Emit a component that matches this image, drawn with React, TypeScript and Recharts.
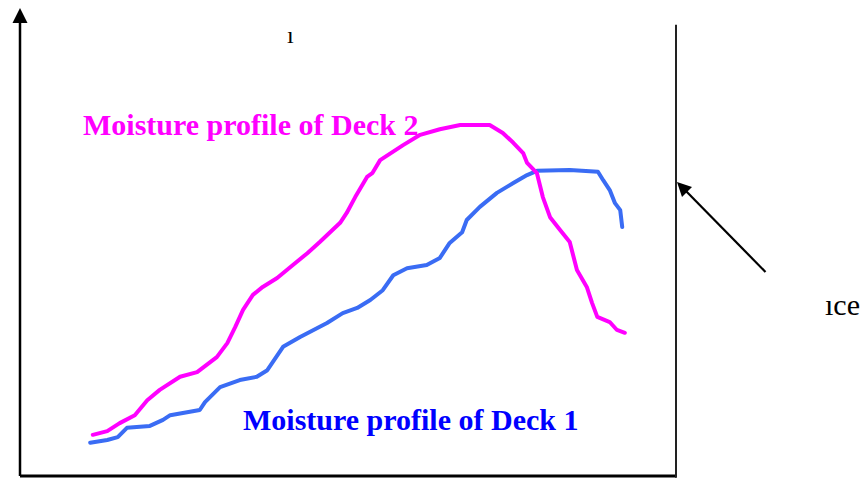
import React from "react";
import { LineChart, Line, XAxis, YAxis, ReferenceLine } from "recharts";

// Position along the deck (0-100) and relative moisture (0-100)
const deck2X = [11.1, 13.3, 15.2, 17.5, 19.4, 21.3, 24.4, 27.0, 30.0, 31.6, 32.8, 34.0, 35.5, 37.0, 39.2, 41.6, 43.8, 45.7, 48.8, 49.8, 51.1, 52.9, 53.7, 54.9, 58.4, 61.0, 64.0, 67.1, 71.6, 73.6, 75.2, 76.7, 77.3, 78.8, 79.7, 80.8, 82.3, 83.8, 84.9, 86.4, 87.2, 88.0, 89.9, 91.0, 92.2];
const deck2Y = [8.8, 9.6, 11.3, 13.0, 16.2, 18.4, 21.2, 22.2, 25.4, 28.4, 31.8, 35.5, 38.7, 40.4, 42.3, 45.1, 47.6, 50.0, 54.1, 56.2, 59.6, 63.9, 64.7, 67.5, 70.7, 72.9, 74.1, 75.0, 75.0, 73.3, 71.2, 69.0, 66.9, 64.7, 59.6, 55.3, 52.6, 50.0, 44.0, 40.4, 37.0, 34.0, 32.9, 31.2, 30.6];

const deck1X = [10.7, 13.3, 14.9, 16.3, 19.8, 21.8, 22.9, 27.4, 28.2, 30.5, 33.5, 36.1, 37.7, 40.1, 42.7, 46.8, 49.2, 51.4, 53.4, 55.3, 56.9, 59.0, 62.0, 64.0, 65.5, 67.4, 68.1, 70.1, 72.7, 75.2, 77.3, 78.8, 83.8, 88.1, 88.9, 89.9, 90.7, 91.5, 91.8];
const deck1Y = [7.1, 7.7, 8.3, 10.3, 10.7, 12.0, 13.0, 14.1, 15.8, 19.0, 20.5, 21.2, 22.6, 27.6, 29.7, 32.7, 34.8, 35.9, 37.6, 39.7, 42.9, 44.4, 45.1, 46.6, 49.8, 52.1, 54.7, 57.5, 60.5, 62.6, 64.3, 65.2, 65.4, 65.0, 63.2, 61.1, 58.3, 56.8, 53.2];

const labelDeck2 = "Moisture profile of Deck 2";
const labelDeck1 = "Moisture profile of Deck 1";

const deck2 = deck2X.map((x, i) => ({ x, y: deck2Y[i] }));
const deck1 = deck1X.map((x, i) => ({ x, y: deck1Y[i] }));

const serif = "'Liberation Serif', 'Times New Roman', serif";

export default function App() {
  return (
    <div style={{ position: "absolute", left: 0, top: 0, width: 862, height: 479, background: "#fff" }}>
      <LineChart width={862} height={479} margin={{ top: 8, right: 186, bottom: 3, left: 20 }}>
        <XAxis type="number" dataKey="x" domain={[0, 100]} hide allowDataOverflow />
        <YAxis type="number" dataKey="y" domain={[0, 100]} hide allowDataOverflow />
        <ReferenceLine segment={[{ x: 0, y: 0 }, { x: 100, y: 0 }]} stroke="#000" strokeWidth={3} ifOverflow="visible" />
        <ReferenceLine segment={[{ x: 100, y: -0.4 }, { x: 100, y: 96.4 }]} stroke="#222" strokeWidth={2} ifOverflow="visible" />
        <ReferenceLine segment={[{ x: 0, y: 0 }, { x: 0, y: 97 }]} stroke="#000" strokeWidth={2.5} ifOverflow="visible" />
        <Line data={deck1} dataKey="y" type="linear" stroke="#3a6cf4" strokeWidth={4} strokeLinecap="round" strokeLinejoin="round" dot={false} isAnimationActive={false} />
        <Line data={deck2} dataKey="y" type="linear" stroke="#ff00ff" strokeWidth={4} strokeLinecap="round" strokeLinejoin="round" dot={false} isAnimationActive={false} />
      </LineChart>
      <svg width={862} height={479} style={{ position: "absolute", left: 0, top: 0, pointerEvents: "none" }}>
        <polygon points="20,8 12.5,23 27.5,23" fill="#000" />
        <line x1={765.5} y1={272} x2={684} y2={189} stroke="#000" strokeWidth={2.2} />
        <polygon points="677,182 682,197 692,187" fill="#000" />
        <text x={83} y={135} fill="#ff00ff" fontFamily={serif} fontWeight="bold" fontSize={30}>{labelDeck2}</text>
        <text x={243} y={430} fill="#0000ff" fontFamily={serif} fontWeight="bold" fontSize={30}>{labelDeck1}</text>
        <text x={287} y={43} fill="#000" fontFamily={serif} fontSize={24}>ı</text>
        <text x={825} y={315} fill="#000" fontFamily={serif} fontSize={30}>ıce</text>
      </svg>
    </div>
  );
}
